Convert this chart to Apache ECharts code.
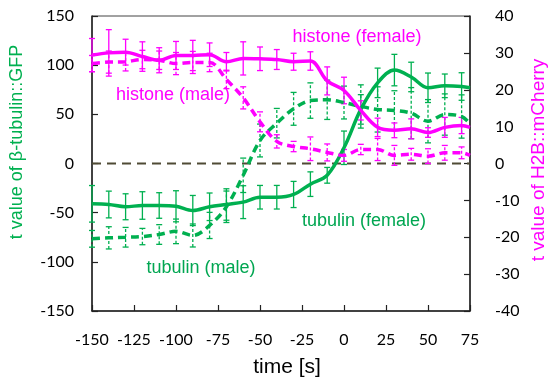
<!DOCTYPE html>
<html><head><meta charset="utf-8">
<script src="https://cdn.jsdelivr.net/npm/echarts@6/dist/echarts.min.js"></script>
<style>html,body{margin:0;padding:0;background:#fff}#c{width:548px;height:383px}</style>
</head><body><div id="c"></div>
<script>
// time points [s]
const time = [-150,-140,-130,-120,-110,-100,-90,-80,-70,-60,-50,-40,-30,-20,-10,0,10,20,30,40,50,60,70,75];
// H2B::mCherry t values (right axis)
const histoneFemale = [29.4,30.0,30.2,29.0,28.0,29.3,29.3,29.5,27.6,28.5,28.4,28.2,27.6,27.8,22.4,19.8,14.4,9.8,9.0,9.4,8.4,9.8,10.3,9.8];
const histoneFemaleErr = [4.5,6.3,3.5,4.0,3.4,3.8,4.1,3.2,2.5,4.5,3.2,2.7,2.3,2.5,3.8,3.6,2.6,2.5,2.0,2.7,1.3,2.7,2.2,null];
const histoneMale = [27.1,27.5,27.6,28.2,28.0,27.1,27.4,27.4,22.8,17.8,11.3,6.0,4.6,4.0,3.0,2.2,3.8,3.8,2.2,2.5,2.0,2.9,2.9,2.2];
const histoneMaleErr = [2.2,3.0,2.5,2.5,2.5,3.0,3.0,2.5,2.5,3.0,2.7,1.8,1.4,3.2,2.3,1.6,1.4,3.0,2.7,1.6,2.0,2.0,1.6,null];
// beta-tubulin::GFP t values (left axis)
const tubulinFemale = [-41,-41.7,-44,-42.7,-42.7,-43.5,-47.8,-44,-41.7,-39.3,-34.3,-34.3,-31.5,-21,-12,16,55,82,95,88,77,79,78.3,77];
const tubulinFemaleErr = [18.6,13.6,13.2,14,13,15.8,15.3,14,16,16.7,12,12,13.3,12.5,8,17,15,15,16,15,15,12,14,null];
const tubulinMale = [-76.6,-75.6,-75,-74.3,-72.2,-69,-73.2,-63,-44,-12,23.4,41,55.6,64,64.8,62,58,55,54,51.2,43,49.8,47.8,40.4];
const tubulinMaleErr = [8.5,11.3,10,8.3,10,12.5,11.7,13.3,16,17.5,16.7,15,16.7,18,20,16.7,22,23,20,26,22,21,22,null];
// axis ticks
const xTicks = {min:-150, max:75, interval:25};
const yLeftTicks = {min:-150, max:150, interval:50};
const yRightTicks = {min:-40, max:40, interval:10};

const GREEN = '#00b050', MAGENTA = '#ff00ff';

function lineSeries(vals, color, yIdx, dashed) {
  return {
    type:'line', yAxisIndex:yIdx, smooth:0.35, symbol:'none', z:3,
    data: time.map((t,i)=>[t, vals[i]]),
    lineStyle:{color:color, width:3.5, type: dashed ? [8,5] : 'solid'},
    silent:true, animation:false
  };
}
function errSeries(vals, errs, color, yIdx, dashed) {
  const data = [];
  time.forEach((t,i)=>{ if (errs[i]!=null) data.push([t, vals[i]-errs[i], vals[i]+errs[i]]); });
  return {
    type:'custom', yAxisIndex:yIdx, data:data, encode:{x:0, y:[1,2]}, z:2, silent:true, animation:false,
    renderItem: function(params, api){
      const x = api.value(0);
      const lo = api.coord([x, api.value(1)]);
      const hi = api.coord([x, api.value(2)]);
      const w = 3;
      const st = {stroke:color, lineWidth:1.3};
      return {type:'group', children:[
        {type:'line', shape:{x1:lo[0],y1:lo[1],x2:hi[0],y2:hi[1]}, style:{stroke:color, lineWidth:1.3, lineDash: dashed ? [3,2] : null}},
        {type:'line', shape:{x1:lo[0]-w,y1:lo[1],x2:lo[0]+w,y2:lo[1]}, style:st},
        {type:'line', shape:{x1:hi[0]-w,y1:hi[1],x2:hi[0]+w,y2:hi[1]}, style:st}
      ]};
    }
  };
}

const chart = echarts.init(document.getElementById('c'), null, {renderer:'canvas'});
const tickFont = {fontFamily:'Lato', fontSize:16, color:'#000'};
chart.setOption({
  animation:false,
  backgroundColor:'#fff',
  grid:{left:92, right:78, top:16, bottom:72, show:true, borderColor:'#444', borderWidth:1},
  xAxis:{
    type:'value', min:xTicks.min, max:xTicks.max, interval:xTicks.interval,
    name:'time [s]', nameLocation:'middle', nameGap:46,
    nameTextStyle:{fontFamily:'Liberation Sans', fontSize:21, color:'#000', padding:[0,0,0,12]},
    axisLine:{show:true, onZero:false, lineStyle:{color:'#222', width:1.5}},
    axisTick:{show:true, inside:true, length:6, lineStyle:{color:'#222', width:1.2}},
    axisLabel:Object.assign({margin:21}, tickFont),
    splitLine:{show:false}
  },
  yAxis:[{
    type:'value', min:yLeftTicks.min, max:yLeftTicks.max, interval:yLeftTicks.interval,
    axisLine:{show:true, onZero:false, lineStyle:{color:'#222', width:1.5}},
    axisTick:{show:true, inside:true, length:6, lineStyle:{color:'#222', width:1.2}},
    axisLabel:Object.assign({margin:18}, tickFont),
    splitLine:{show:false}
  },{
    type:'value', position:'right', min:yRightTicks.min, max:yRightTicks.max, interval:yRightTicks.interval,
    axisLine:{show:true, onZero:false, lineStyle:{color:'#222', width:1.5}},
    axisTick:{show:true, inside:true, length:6, lineStyle:{color:'#222', width:1.2}},
    axisLabel:Object.assign({margin:25, align:'left'}, tickFont),
    splitLine:{show:false}
  }],
  graphic:[
    {type:'text', x:17, y:142, rotation:Math.PI/2, style:{text:'t value of β-tubulin::GFP', fill:GREEN, font:'18px "Liberation Sans"', textAlign:'center', textVerticalAlign:'middle'}},
    {type:'text', x:539, y:160, rotation:Math.PI/2, style:{text:'t value of H2B::mCherry', fill:MAGENTA, font:'19px "Liberation Sans"', textAlign:'center', textVerticalAlign:'middle'}},
    {type:'text', x:357, y:37, z:10, style:{text:'histone (female)', fill:MAGENTA, font:'18px "Liberation Sans"', textAlign:'center', textVerticalAlign:'middle'}},
    {type:'text', x:173, y:95, z:10, style:{text:'histone (male)', fill:MAGENTA, font:'18px "Liberation Sans"', textAlign:'center', textVerticalAlign:'middle'}},
    {type:'text', x:364, y:221, z:10, style:{text:'tubulin (female)', fill:'#00a651', font:'18px "Liberation Sans"', textAlign:'center', textVerticalAlign:'middle'}},
    {type:'text', x:201, y:268, z:10, style:{text:'tubulin (male)', fill:'#00a651', font:'18px "Liberation Sans"', textAlign:'center', textVerticalAlign:'middle'}}
  ],
  series:[
    {type:'line', yAxisIndex:0, symbol:'none', z:1, silent:true, data:[[xTicks.min,0],[xTicks.max,0]],
     lineStyle:{color:'#4f4a35', width:2, type:[9,6]}},
    errSeries(tubulinMale, tubulinMaleErr, GREEN, 0, true),
    errSeries(tubulinFemale, tubulinFemaleErr, GREEN, 0, false),
    errSeries(histoneMale, histoneMaleErr, MAGENTA, 1, true),
    errSeries(histoneFemale, histoneFemaleErr, MAGENTA, 1, false),
    lineSeries(tubulinMale, GREEN, 0, true),
    lineSeries(tubulinFemale, GREEN, 0, false),
    lineSeries(histoneMale, MAGENTA, 1, true),
    lineSeries(histoneFemale, MAGENTA, 1, false)
  ]
});
</script>
</body></html>
